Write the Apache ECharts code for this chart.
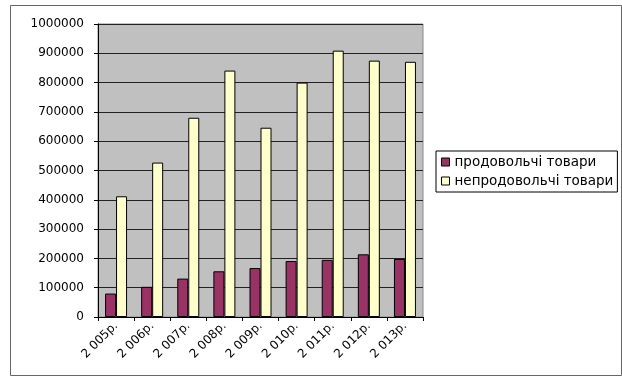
<!DOCTYPE html>
<html>
<head>
<meta charset="utf-8">
<script src="https://cdn.jsdelivr.net/npm/echarts@6/dist/echarts.min.js"></script>
<style>
  html, body { margin: 0; padding: 0; background: #fff; }
  #chart { width: 622px; height: 376px; }
</style>
</head>
<body>
<div id="chart"></div>
<script>
// роки та значення
const years = ['2 005р.', '2 006р.', '2 007р.', '2 008р.', '2 009р.', '2 010р.', '2 011р.', '2 012р.', '2 013р.'];
const food = [80000, 103000, 131000, 156000, 167000, 191000, 195000, 214000, 198000];
const nonFood = [412000, 527000, 680000, 841000, 646000, 800000, 909000, 875000, 871000];
const yTicks = [0, 100000, 200000, 300000, 400000, 500000, 600000, 700000, 800000, 900000, 1000000];

const chart = echarts.init(document.getElementById('chart'), null, { renderer: 'canvas' });

const font = 'DejaVu Sans, Arial, sans-serif';

const option = {
  animation: false,
  textStyle: { fontFamily: font },
  graphic: [{
    type: 'rect',
    shape: { x: 10.5, y: 5.5, width: 611, height: 370 },
    style: { fill: 'none', stroke: '#666', lineWidth: 1 },
    z: -10
  }],
  grid: {
    left: 98,
    top: 24,
    width: 325,
    height: 293,
    show: true,
    backgroundColor: '#c0c0c0',
    borderColor: '#888',
    borderWidth: 1
  },
  legend: {
    orient: 'vertical',
    left: 436,
    top: 151,
    padding: [4, 4, 4, 5],
    itemGap: 5,
    itemWidth: 8,
    itemHeight: 8,
    borderColor: '#000',
    borderWidth: 1,
    textStyle: { fontFamily: font, fontSize: 13.5, color: '#000' },
    data: [
      { name: 'продовольчі товари', icon: 'rect', itemStyle: { borderColor: '#000', borderWidth: 1 } },
      { name: 'непродовольчі товари', icon: 'rect', itemStyle: { borderColor: '#000', borderWidth: 1 } }
    ]
  },
  xAxis: {
    type: 'category',
    data: years,
    axisLine: { lineStyle: { color: '#000', width: 1 } },
    axisTick: { show: true, alignWithLabel: false, length: 4, lineStyle: { color: '#000' } },
    axisLabel: {
      rotate: 45,
      interval: 0,
      margin: 7,
      fontFamily: font,
      fontSize: 12,
      color: '#000'
    }
  },
  yAxis: {
    type: 'value',
    min: 0,
    max: 1000000,
    interval: 100000,
    axisLine: { show: true, lineStyle: { color: '#000', width: 1 } },
    axisTick: { show: true, length: 4, lineStyle: { color: '#000' } },
    axisLabel: {
      fontFamily: font,
      fontSize: 12,
      color: '#000',
      margin: 14,
      formatter: function (v) { return yTicks.indexOf(v) >= 0 ? String(v) : ''; }
    },
    splitLine: { show: true, lineStyle: { color: '#222', width: 1 } }
  },
  series: [{
    name: 'продовольчі товари',
    type: 'bar',
    data: food,
    barWidth: 11,
    barGap: '0%',
    itemStyle: { color: '#993366', borderColor: '#000', borderWidth: 1 }
  }, {
    name: 'непродовольчі товари',
    type: 'bar',
    data: nonFood,
    barWidth: 11,
    barGap: '0%',
    itemStyle: { color: '#ffffcc', borderColor: '#000', borderWidth: 1 }
  }]
};

chart.setOption(option);
</script>
</body>
</html>
